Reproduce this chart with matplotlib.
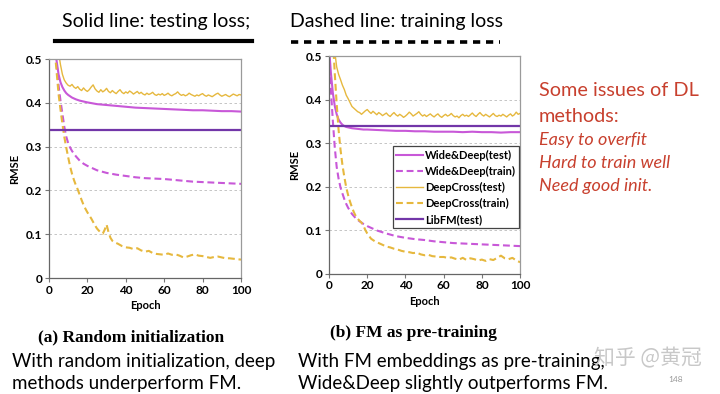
import matplotlib
matplotlib.use("Agg")
import matplotlib.pyplot as plt
from matplotlib.lines import Line2D

# ---- data ----
# (a) random initialization, epochs 1..100
epochs_a = list(range(1, 101))
wd_test_a_ep = [1, 2, 3, 4, 5, 6, 7, 8, 9, 10, 12, 14, 16, 18, 20, 25, 30, 35, 40, 45,
                50, 55, 60, 65, 70, 75, 80, 85, 90, 95, 100]
wd_test_a = [0.70, 0.60, 0.53, 0.495, 0.465, 0.447, 0.436, 0.428, 0.422, 0.418, 0.412,
             0.408, 0.405, 0.403, 0.401, 0.397, 0.395, 0.393, 0.391, 0.389, 0.388,
             0.387, 0.386, 0.385, 0.384, 0.383, 0.383, 0.382, 0.381, 0.381, 0.380]
wd_train_a_ep = [1, 2, 3, 4, 5, 6, 7, 8, 9, 10, 11, 12, 14, 16, 18, 20, 25, 30, 35, 40,
                 45, 50, 55, 60, 65, 70, 75, 80, 85, 90, 95, 100]
wd_train_a = [0.75, 0.65, 0.56, 0.49, 0.44, 0.405, 0.375, 0.345, 0.323, 0.308, 0.298,
              0.290, 0.278, 0.268, 0.261, 0.256, 0.246, 0.240, 0.236, 0.233, 0.230,
              0.228, 0.227, 0.226, 0.224, 0.222, 0.220, 0.219, 0.218, 0.217, 0.216, 0.215]
dc_test_a = [0.80, 0.68, 0.60, 0.55, 0.515, 0.487, 0.465, 0.452, 0.445, 0.440,
             0.438, 0.442, 0.436, 0.433, 0.437, 0.431, 0.428, 0.434, 0.429, 0.426,
             0.430, 0.436, 0.441, 0.432, 0.427, 0.424, 0.430, 0.425, 0.428, 0.433,
             0.426, 0.423, 0.428, 0.424, 0.421, 0.426, 0.430, 0.424, 0.421, 0.425,
             0.422, 0.427, 0.424, 0.420, 0.423, 0.426, 0.421, 0.424, 0.420, 0.418,
             0.422, 0.419, 0.421, 0.424, 0.419, 0.417, 0.420, 0.418, 0.421, 0.417,
             0.419, 0.422, 0.418, 0.416, 0.419, 0.421, 0.425, 0.420, 0.417, 0.419,
             0.416, 0.418, 0.422, 0.419, 0.417, 0.415, 0.418, 0.416, 0.419, 0.421,
             0.417, 0.415, 0.418, 0.416, 0.414, 0.417, 0.420, 0.422, 0.418, 0.415,
             0.417, 0.419, 0.416, 0.414, 0.417, 0.420, 0.418, 0.416, 0.419, 0.418]
dc_train_a_ep = [1, 2, 3, 4, 5, 6, 7, 8, 9, 10, 11, 12, 13, 14, 15, 16, 17, 18, 19, 20,
                 21, 22, 23, 24, 25, 26, 27, 28, 29, 30, 31, 32, 33, 34, 36, 38, 40, 42,
                 44, 46, 48, 50, 52, 54, 56, 58, 60, 62, 64, 66, 68, 70, 72, 74, 76, 78,
                 80, 82, 84, 86, 88, 90, 92, 94, 96, 98, 100]
dc_train_a = [0.75, 0.62, 0.52, 0.47, 0.42, 0.385, 0.352, 0.322, 0.298, 0.276, 0.255,
              0.238, 0.224, 0.212, 0.202, 0.190, 0.178, 0.167, 0.158, 0.150, 0.143,
              0.136, 0.128, 0.120, 0.113, 0.108, 0.104, 0.101, 0.110, 0.122, 0.105,
              0.092, 0.085, 0.082, 0.078, 0.073, 0.070, 0.069, 0.066, 0.068, 0.063,
              0.060, 0.062, 0.057, 0.055, 0.054, 0.053, 0.056, 0.053, 0.054, 0.051,
              0.047, 0.049, 0.052, 0.054, 0.051, 0.050, 0.048, 0.046, 0.048, 0.049,
              0.047, 0.045, 0.045, 0.044, 0.043, 0.042]
libfm_a = 0.338

# (b) FM as pre-training, epochs 0..100
epochs_b = list(range(0, 101))
wd_test_b_ep = [0, 1, 2, 3, 4, 5, 6, 7, 8, 9, 10, 12, 14, 16, 18, 20, 25, 30, 35, 40, 45,
                50, 55, 60, 65, 70, 75, 80, 85, 90, 95, 100]
wd_test_b = [0.52, 0.46, 0.415, 0.385, 0.366, 0.354, 0.347, 0.342, 0.339, 0.337, 0.336,
             0.334, 0.333, 0.332, 0.331, 0.331, 0.330, 0.329, 0.328, 0.328, 0.327,
             0.327, 0.326, 0.326, 0.326, 0.325, 0.326, 0.325, 0.325, 0.324, 0.325, 0.325]
wd_train_b_ep = [0, 1, 2, 3, 4, 5, 6, 7, 8, 9, 10, 12, 14, 16, 18, 20, 25, 30, 35, 40,
                 45, 50, 55, 60, 65, 70, 75, 80, 85, 90, 95, 100]
wd_train_b = [0.50, 0.42, 0.35, 0.29, 0.245, 0.218, 0.198, 0.184, 0.171, 0.160, 0.151,
              0.137, 0.127, 0.120, 0.114, 0.109, 0.099, 0.092, 0.086, 0.082, 0.079,
              0.077, 0.074, 0.072, 0.070, 0.069, 0.068, 0.067, 0.066, 0.065, 0.064, 0.063]
dc_test_b = [0.80, 0.68, 0.58, 0.51, 0.475, 0.458, 0.446, 0.433, 0.423, 0.410,
             0.402, 0.393, 0.384, 0.380, 0.376, 0.372, 0.370, 0.366, 0.370, 0.374,
             0.377, 0.372, 0.368, 0.373, 0.369, 0.365, 0.370, 0.367, 0.363, 0.366,
             0.369, 0.364, 0.361, 0.366, 0.370, 0.365, 0.362, 0.366, 0.363, 0.359,
             0.362, 0.366, 0.371, 0.367, 0.362, 0.365, 0.368, 0.372, 0.366, 0.362,
             0.365, 0.361, 0.364, 0.367, 0.363, 0.360, 0.364, 0.367, 0.362, 0.359,
             0.363, 0.366, 0.362, 0.364, 0.368, 0.363, 0.360, 0.362, 0.358, 0.363,
             0.366, 0.362, 0.364, 0.361, 0.365, 0.369, 0.364, 0.361, 0.366, 0.370,
             0.365, 0.362, 0.366, 0.363, 0.360, 0.364, 0.368, 0.363, 0.361, 0.364,
             0.362, 0.366, 0.363, 0.360, 0.364, 0.367, 0.362, 0.365, 0.371, 0.366, 0.368]
dc_train_b_ep = [0, 1, 2, 3, 4, 5, 6, 7, 8, 9, 10, 11, 12, 13, 14, 15, 16, 17, 18, 19,
                 20, 21, 22, 24, 26, 28, 30, 32, 34, 36, 38, 40, 42, 44, 46, 48, 50, 52,
                 54, 56, 58, 60, 62, 64, 66, 68, 70, 72, 74, 76, 78, 80, 82, 84, 86, 88,
                 90, 92, 94, 96, 98, 100]
dc_train_b = [0.70, 0.62, 0.54, 0.46, 0.39, 0.33, 0.285, 0.250, 0.222, 0.198, 0.180,
              0.165, 0.152, 0.141, 0.132, 0.126, 0.121, 0.117, 0.110, 0.100, 0.092,
              0.086, 0.080, 0.074, 0.070, 0.066, 0.062, 0.060, 0.057, 0.055, 0.052,
              0.050, 0.049, 0.047, 0.048, 0.044, 0.042, 0.043, 0.040, 0.039, 0.038,
              0.038, 0.036, 0.037, 0.034, 0.032, 0.036, 0.031, 0.035, 0.033, 0.030,
              0.032, 0.029, 0.033, 0.031, 0.036, 0.041, 0.035, 0.033, 0.036, 0.030, 0.026]
libfm_b = 0.338

series_names = ["Wide&Deep(test)", "Wide&Deep(train)", "DeepCross(test)",
                "DeepCross(train)", "LibFM(test)"]
y_ticks = [0, 0.1, 0.2, 0.3, 0.4, 0.5]
y_ticklabels = ["0", "0.1", "0.2", "0.3", "0.4", "0.5"]
x_ticks = [0, 20, 40, 60, 80, 100]

# colours
WD = "#C858D8"
DC = "#E6B83E"
FM = "#7236A8"
RED = "#C8402E"

plt.rcParams["font.family"] = ["Lato", "DejaVu Sans"]

fig = plt.figure(figsize=(7.2, 3.94), dpi=100)


def style_axes(ax):
    ax.set_xlim(0, 100)
    ax.set_ylim(0, 0.5)
    ax.set_xticks(x_ticks)
    ax.set_yticks(y_ticks)
    ax.set_yticklabels(y_ticklabels)
    for lab in ax.get_xticklabels() + ax.get_yticklabels():
        lab.set_fontweight("bold")
        lab.set_fontsize(8.5)
    ax.tick_params(direction="out", length=3, width=0.8, color="#777777", pad=2)
    for sp in ax.spines.values():
        sp.set_color("#9a9a9a")
        sp.set_linewidth(0.9)
    ax.spines["left"].set_color("#666666")
    ax.spines["bottom"].set_color("#666666")
    for yv in y_ticks[1:-1]:
        ax.axhline(yv, color="#bbbbbb", lw=0.6, ls=(0, (3, 3)), zorder=0)
    ax.set_xlabel("Epoch", fontsize=8, fontweight="bold", labelpad=3)
    ax.set_ylabel("RMSE", fontsize=8, fontweight="bold", labelpad=4)


dash = (0, (3.3, 1.8))

# ---- left panel ----
ax1 = fig.add_axes([0.068, 0.2944, 0.2667, 0.5558])
ax1.plot(wd_test_a_ep, wd_test_a, color=WD, lw=1.5)
ax1.plot(wd_train_a_ep, wd_train_a, color=WD, lw=1.5, ls=dash)
ax1.plot(epochs_a, dc_test_a, color=DC, lw=1.0)
ax1.plot(dc_train_a_ep, dc_train_a, color=DC, lw=1.5, ls=dash)
ax1.axhline(libfm_a, color=FM, lw=1.6)
style_axes(ax1)

# ---- right panel ----
ax2 = fig.add_axes([0.457, 0.3058, 0.2653, 0.552])
ax2.plot(wd_test_b_ep, wd_test_b, color=WD, lw=1.5, label=series_names[0])
ax2.plot(wd_train_b_ep, wd_train_b, color=WD, lw=1.5, ls=dash, label=series_names[1])
ax2.plot(epochs_b, dc_test_b, color=DC, lw=1.0, label=series_names[2])
ax2.plot(dc_train_b_ep, dc_train_b, color=DC, lw=1.5, ls=dash, label=series_names[3])
ax2.axhline(libfm_b, color=FM, lw=1.6, label=series_names[4])
style_axes(ax2)
leg = ax2.legend(loc="upper right", bbox_to_anchor=(0.995, 0.585), fancybox=False,
                 framealpha=1, edgecolor="#444444", borderaxespad=0,
                 prop={"weight": "bold", "size": 8}, handlelength=2.4,
                 handletextpad=0.2, labelspacing=0.45, borderpad=0.3)
leg.get_frame().set_linewidth(0.9)

# ---- header ----
fig.text(62 / 720, 1 - 22 / 394, "Solid line: testing loss;", fontsize=14,
         va="center", ha="left")
fig.text(290 / 720, 1 - 22 / 394, "Dashed line: training loss", fontsize=14,
         va="center", ha="left")
fig.add_artist(Line2D([55 / 720, 252 / 720], [1 - 41 / 394, 1 - 41 / 394],
                      color="black", lw=3.0, transform=fig.transFigure))
fig.add_artist(Line2D([291 / 720, 500 / 720], [1 - 42 / 394, 1 - 42 / 394],
                      color="black", lw=2.6, ls=(0, (2.0, 1.6)),
                      transform=fig.transFigure))

# ---- right notes ----
fig.text(539 / 720, 1 - 91 / 394, "Some issues of DL", fontsize=14.3, color=RED,
         va="center")
fig.text(539 / 720, 1 - 116 / 394, "methods:", fontsize=14.3, color=RED, va="center")
for i, line in enumerate(["Easy to overfit", "Hard to train well", "Need good init."]):
    fig.text(539 / 720, 1 - (140 + 23 * i) / 394, line, fontsize=13, color=RED,
             style="italic", va="center")

# ---- captions ----
fig.text(38 / 720, 1 - 337 / 394, "(a) Random initialization", fontsize=12.5,
         family="Liberation Serif", fontweight="bold", va="center")
fig.text(330 / 720, 1 - 333 / 394, "(b) FM as pre-training", fontsize=12.5,
         family="Liberation Serif", fontweight="bold", va="center")
fig.text(12 / 720, 1 - 362 / 394, "With random initialization, deep", fontsize=13.5,
         va="center")
fig.text(12 / 720, 1 - 384 / 394, "methods underperform FM.", fontsize=13.5, va="center")
fig.text(298 / 720, 1 - 362 / 394, "With FM embeddings as pre-training,", fontsize=13.5,
         va="center")
fig.text(298 / 720, 1 - 384 / 394, "Wide&Deep slightly outperforms FM.", fontsize=13.5,
         va="center")
fig.text(594 / 720, 1 - 358 / 394, "知乎 @黄冠", fontsize=15, color="#c8c8c8",
         family=["Noto Sans CJK SC", "DejaVu Sans"], va="center")
fig.text(668 / 720, 1 - 379 / 394, "148", fontsize=6, color="#999999", va="center")

fig.savefig("out.png", dpi=100)
